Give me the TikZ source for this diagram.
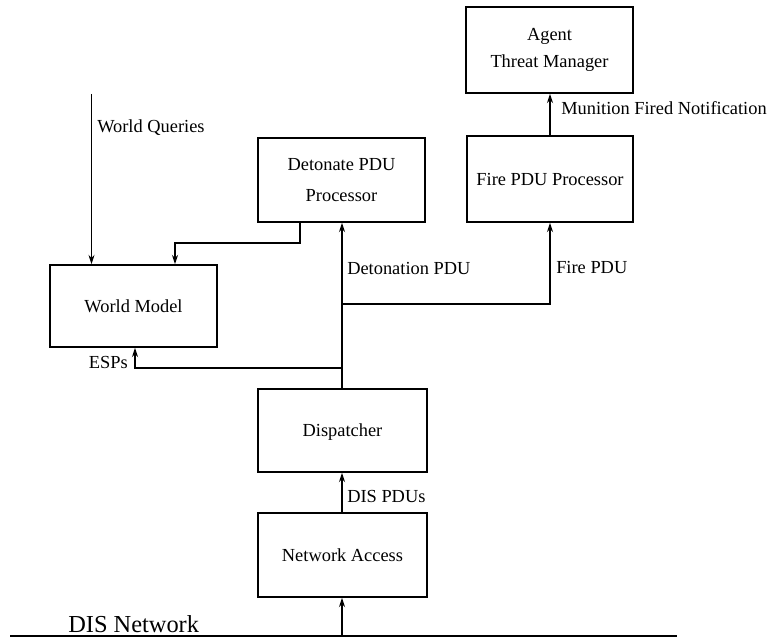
\documentclass[tikz,border=0pt]{standalone}
\usepackage{fontspec}
\setmainfont{Liberation Serif}
\usetikzlibrary{arrows.meta}
\begin{document}
\begin{tikzpicture}[x=0.75pt,y=-0.75pt,
  blk/.style={draw,line width=1.2pt,inner sep=0pt,align=center,font=\fontsize{13.8}{20}\selectfont},
  lbl/.style={inner sep=0pt,font=\fontsize{13.8}{20}\selectfont},
  conn/.style={line width=1.05pt},
  arr/.style={conn,-{Stealth[length=7pt,width=4.5pt]}}]
\useasboundingbox (0,0) rectangle (769,638);
% boxes
\node[blk,minimum width=167*0.75pt,minimum height=86*0.75pt] (agent) at (549.5,50) {Agent\\Threat Manager};
\node[blk,minimum width=166*0.75pt,minimum height=86*0.75pt] (fire) at (550,179) {Fire PDU Processor};
\node[blk,minimum width=167*0.75pt,minimum height=84*0.75pt,font=\fontsize{13.8}{23}\selectfont] (det) at (341.5,180) {Detonate PDU\\Processor};
\node[blk,minimum width=167*0.75pt,minimum height=82*0.75pt,text depth=-3pt] (wm) at (133.5,306) {World Model};
\node[blk,minimum width=169*0.75pt,minimum height=83*0.75pt,text depth=-3pt] (disp) at (342.5,430.5) {Dispatcher};
\node[blk,minimum width=169*0.75pt,minimum height=84*0.75pt] (net) at (342.5,555) {Network Access};
% coordinates
\coordinate (wq) at (91.5,94);
\coordinate (netl) at (10,636);
\coordinate (netr) at (677,636);
\coordinate (tap) at (342,636);
\coordinate (jf) at (342,304);
\coordinate (je) at (342,368);
% network line
\draw[line width=1.9pt] (netl) -- (netr);
% connectors
\draw[arr] (wq) -- (wq |- wm.north);
\draw[arr] (det.south -| 300,0) -- (300,243) -- (175,243) -- (wm.north -| 175,0);
\draw[arr] (disp.north -| 342,0) -- (det.south -| 342,0);
\draw[arr] (jf) -- (jf -| fire.south) -- (fire.south);
\draw[arr] (je) -- (135,368) -- (wm.south -| 135,0);
\draw[arr] (net.north -| 342,0) -- (disp.south -| 342,0);
\draw[arr] (tap) -- (net.south -| 342,0);
\draw[arr] (fire.north) -- (agent.south -| fire.north);
% labels
\node[lbl,anchor=base west] (lwq) at (97,133) {World Queries};
\node[lbl,anchor=base west] (lmf) at (561,115) {Munition Fired Notification};
\node[lbl,anchor=base west] (lfp) at (556,274) {Fire PDU};
\node[lbl,anchor=base west] (ldp) at (347,275) {Detonation PDU};
\node[lbl,anchor=base east] (lesp) at (128,369) {ESPs};
\node[lbl,anchor=base west] (ldis) at (347,503) {DIS PDUs};
\node[inner sep=0pt,anchor=base west,font=\fontsize{18.3}{22}\selectfont] (ldn) at (68,633) {DIS Network};
\end{tikzpicture}
\end{document}
